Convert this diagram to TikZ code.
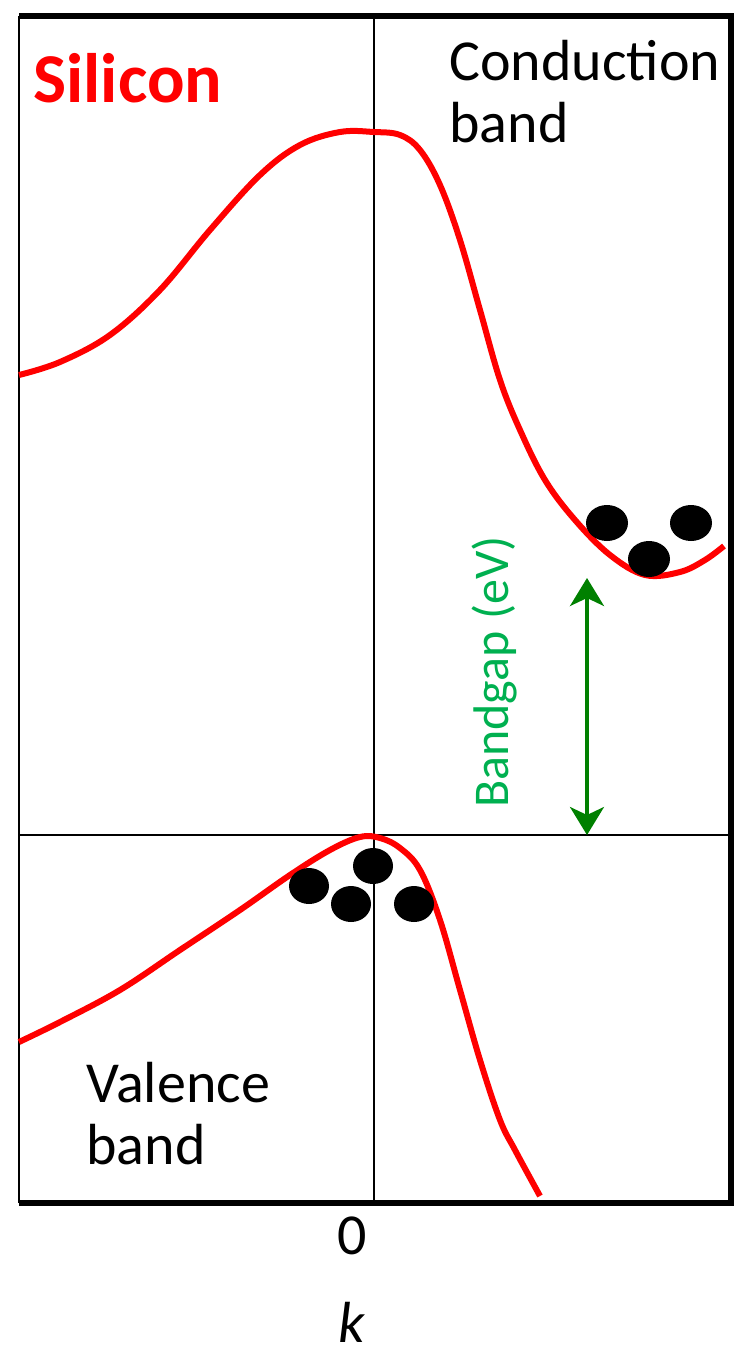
\documentclass[tikz,border=0pt]{standalone}
\usepackage{fontspec}
\setmainfont{Carlito}
\usetikzlibrary{arrows.meta}
\definecolor{gapgreen}{RGB}{0,128,0}
\definecolor{labelgreen}{RGB}{0,176,80}
\begin{document}
\begin{tikzpicture}[x = .5pt, y = -.5pt,
    band/.style = {red, line width = 3pt, line join = round},
    label/.style = {inner sep = 0pt, font = \fontsize{29}{31}\selectfont}]
  \useasboundingbox (0,0) rectangle (739,1366);
  % frame and axes
  \draw [line width = 1.2pt] (19,16) -- (19,1203);
  \draw [line width = 3pt] (19,16) -- (731,16) -- (731,1203) -- (19,1203);
  \draw [line width = 1pt] (374,16) -- (374,1203);
  \draw [line width = 1pt] (19,835) -- (731,835);
  % bands
  \draw [band] plot [smooth, tension = .6] coordinates {(19,375) (60,362) (110,335)
    (160,290) (210,230) (260,175) (300,145) (340,132) (374,132) (400,135) (420,150)
    (440,185) (460,240) (480,310) (500,380) (520,430) (545,480) (575,520) (610,555)
    (645,575) (680,572) (705,560) (724,546)};
  \draw [band] plot [smooth, tension = .6] coordinates {(19,1042) (60,1022) (120,990)
    (180,950) (240,910) (290,875) (330,850) (360,837) (380,838) (400,848) (420,870)
    (440,920) (460,990) (480,1060) (500,1120) (515,1150) (540,1196)};
  % carriers
  \fill (607,523) ellipse (21 and 18);
  \fill (691,523) ellipse (21 and 18);
  \fill (649,559) ellipse (21 and 18);
  \fill (309,886) ellipse (20 and 18);
  \fill (373,866) ellipse (20 and 18);
  \fill (351,904) ellipse (20 and 18);
  \fill (414,904) ellipse (20 and 18);
  % bandgap
  \coordinate (gaptop) at (587,578);
  \coordinate (gapbot) at (587,835);
  \draw [{Stealth[length = 14pt, width = 17pt, inset = 4pt]}-{Stealth[length = 14pt, width = 17pt, inset = 4pt]},
         gapgreen, line width = 1.8pt] (gaptop) -- (gapbot);
  \node [inner sep = 0pt, rotate = 90, labelgreen, font = \fontsize{25}{28}\selectfont]
    (gaplabel) at (495,672) {Bandgap (eV)};
  % labels
  \node [inner sep = 0pt, anchor = west, red, font = \fontsize{35}{38}\bfseries]
    (material) at (33,78) {Silicon};
  \node [label, anchor = north west, align = left] (cband) at (449,40) {Conduction\\band};
  \node [label, anchor = north west, align = left] (vband) at (86,1062) {Valence\\band};
  \node [label] (zero) at (352,1236) {0};
  \node [label] (kaxis) at (352,1322) {\textit{k}};
\end{tikzpicture}
\end{document}
